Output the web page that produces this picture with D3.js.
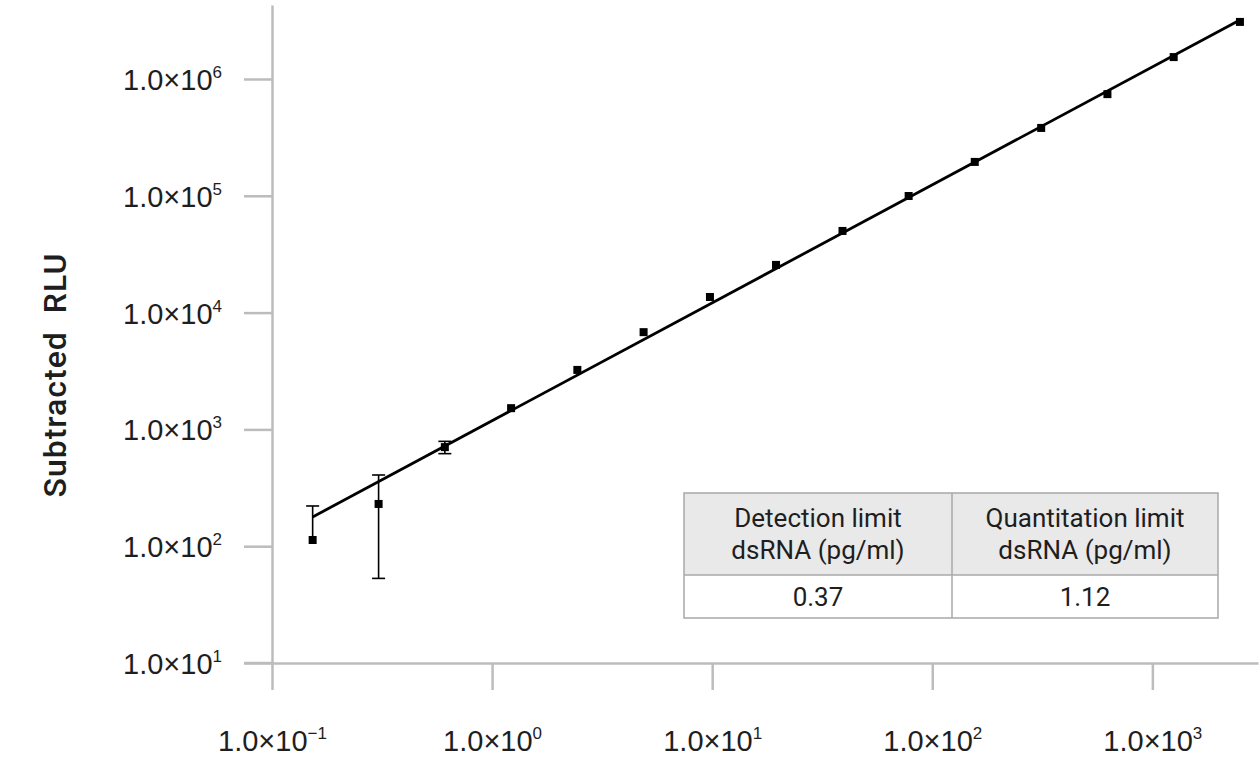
<!DOCTYPE html>
<html>
<head>
<meta charset="utf-8">
<script src="https://cdn.jsdelivr.net/npm/d3@7"></script>
<style>
  html, body { margin: 0; padding: 0; background: #fff; }
  svg { display: block; font-family: Roboto, "Noto Sans", sans-serif; }
</style>
</head>
<body>
<svg id="chart" width="1260" height="770"></svg>
<script>
// ---- data ----
const concentrations = [0.153, 0.305, 0.61, 1.22, 2.44, 4.88, 9.77, 19.5, 39.1, 78.1, 156, 312.5, 625, 1250, 2500];
const rluValues = [113, 230, 705, 1520, 3230, 6800, 13600, 25600, 50000, 99600, 195000, 381000, 742000, 1540000, 3080000];
const rluSD = [108, 177, 85, 0, 0, 0, 0, 0, 0, 0, 0, 0, 0, 0, 0];
const fitLine = [[0.153, 178], [2500, 3200000]];
const xTicks = [0.1, 1, 10, 100, 1000];
const xTickExponents = ["−1", "0", "1", "2", "3"];
const yTicks = [10, 100, 1000, 10000, 100000, 1000000];
const yTickExponents = ["1", "2", "3", "4", "5", "6"];
const yTitle = "Subtracted  RLU";
const tableHeaders = [["Detection limit", "dsRNA (pg/ml)"], ["Quantitation limit", "dsRNA (pg/ml)"]];
const tableValues = ["0.37", "1.12"];

// ---- layout ----
const svg = d3.select("#chart");
const x = d3.scaleLog().domain([0.1, 3020]).range([272, 1258]);
const y = d3.scaleLog().domain([10, 4.3e6]).range([663, 5]);
const axisColor = "#bcbcbc";
const textColor = "#1e1e1e";

function labelWithExp(sel, exps) {
  sel.each(function(d, i) {
    const t = d3.select(this);
    t.text(null);
    t.append("tspan").text("1.0×10");
    t.append("tspan").attr("font-size", 17).attr("dy", -12).text(exps[i]);
  });
}

// y axis
const gy = svg.append("g").attr("transform", "translate(272,0)")
  .call(d3.axisLeft(y).tickValues(yTicks).tickSize(28).tickSizeOuter(0).tickPadding(22).tickFormat(() => ""));
gy.select(".domain").attr("stroke", axisColor).attr("stroke-width", 2.5);
gy.selectAll(".tick line").attr("stroke", axisColor).attr("stroke-width", 2.5);
gy.selectAll(".tick text").attr("font-size", 29).attr("fill", textColor)
  .attr("dy", "0.36em").call(labelWithExp, yTickExponents);

// x axis
const gx = svg.append("g").attr("transform", "translate(0,663)")
  .call(d3.axisBottom(x).tickValues(xTicks).tickSize(27).tickSizeOuter(0).tickPadding(40).tickFormat(() => ""));
gx.select(".domain").attr("stroke", axisColor).attr("stroke-width", 2.5);
gx.selectAll(".tick line").attr("stroke", axisColor).attr("stroke-width", 2.5);
gx.selectAll(".tick text").attr("font-size", 29).attr("fill", textColor)
  .attr("dy", "0.71em").call(labelWithExp, xTickExponents);
svg.append("line").attr("x1", 244).attr("x2", 272).attr("y1", 663).attr("y2", 663)
  .attr("stroke", axisColor).attr("stroke-width", 2.5);

// y title
svg.append("text")
  .attr("transform", "translate(66,375) rotate(-90)")
  .attr("text-anchor", "middle")
  .attr("font-size", 32)
  .attr("font-weight", 500)
  .attr("letter-spacing", 1)
  .attr("fill", textColor)
  .attr("xml:space", "preserve")
  .style("white-space", "pre")
  .text(yTitle);

// fit line
svg.append("path")
  .datum(fitLine)
  .attr("d", d3.line().x(d => x(d[0])).y(d => y(d[1])))
  .attr("stroke", "#000").attr("stroke-width", 2.8).attr("fill", "none");

// error bars
const pts = concentrations.map((c, i) => ({c, v: rluValues[i], sd: rluSD[i]}));
const eb = svg.append("g").attr("stroke", "#000").attr("stroke-width", 1.6);
pts.filter(d => d.sd > 0).forEach(d => {
  const cx = x(d.c);
  const top = y(d.v + d.sd);
  const low = d.v - d.sd;
  const inRange = low > y.domain()[0];
  const bottom = inRange ? y(low) : y(d.v);
  eb.append("line").attr("x1", cx).attr("x2", cx).attr("y1", top).attr("y2", bottom);
  eb.append("line").attr("x1", cx - 6.5).attr("x2", cx + 6.5).attr("y1", top).attr("y2", top);
  if (inRange) {
    eb.append("line").attr("x1", cx - 6.5).attr("x2", cx + 6.5).attr("y1", bottom).attr("y2", bottom);
  }
});

// markers
svg.append("g").selectAll("rect").data(pts).join("rect")
  .attr("x", d => x(d.c) - 4).attr("y", d => y(d.v) - 4)
  .attr("width", 8).attr("height", 8).attr("fill", "#000");

// table
const tb = svg.append("g");
const tx0 = 684, tx1 = 952, tx2 = 1218, ty0 = 493, ty1 = 575, ty2 = 618;
const colX = [tx0, tx1, tx2];
tb.append("rect").attr("x", tx0).attr("y", ty0).attr("width", tx2 - tx0).attr("height", ty1 - ty0)
  .attr("fill", "#e9e9e9");
tb.append("rect").attr("x", tx0).attr("y", ty1).attr("width", tx2 - tx0).attr("height", ty2 - ty1)
  .attr("fill", "#fff");
tb.append("rect").attr("x", tx0).attr("y", ty0).attr("width", tx2 - tx0).attr("height", ty2 - ty0)
  .attr("fill", "none").attr("stroke", "#a8a8a8").attr("stroke-width", 1.5);
tb.append("line").attr("x1", tx0).attr("x2", tx2).attr("y1", ty1).attr("y2", ty1)
  .attr("stroke", "#a8a8a8").attr("stroke-width", 1.5);
tb.append("line").attr("x1", tx1).attr("x2", tx1).attr("y1", ty0).attr("y2", ty2)
  .attr("stroke", "#a8a8a8").attr("stroke-width", 1.5);
tableHeaders.forEach((lines, i) => {
  const cx = (colX[i] + colX[i + 1]) / 2;
  lines.forEach((ln, j) => {
    tb.append("text").attr("x", cx).attr("y", 518 + j * 32).attr("dy", "0.36em")
      .attr("text-anchor", "middle").attr("font-size", 26).attr("fill", textColor).text(ln);
  });
  tb.append("text").attr("x", cx).attr("y", 597).attr("dy", "0.36em")
    .attr("text-anchor", "middle").attr("font-size", 26).attr("fill", textColor).text(tableValues[i]);
});
</script>
</body>
</html>
